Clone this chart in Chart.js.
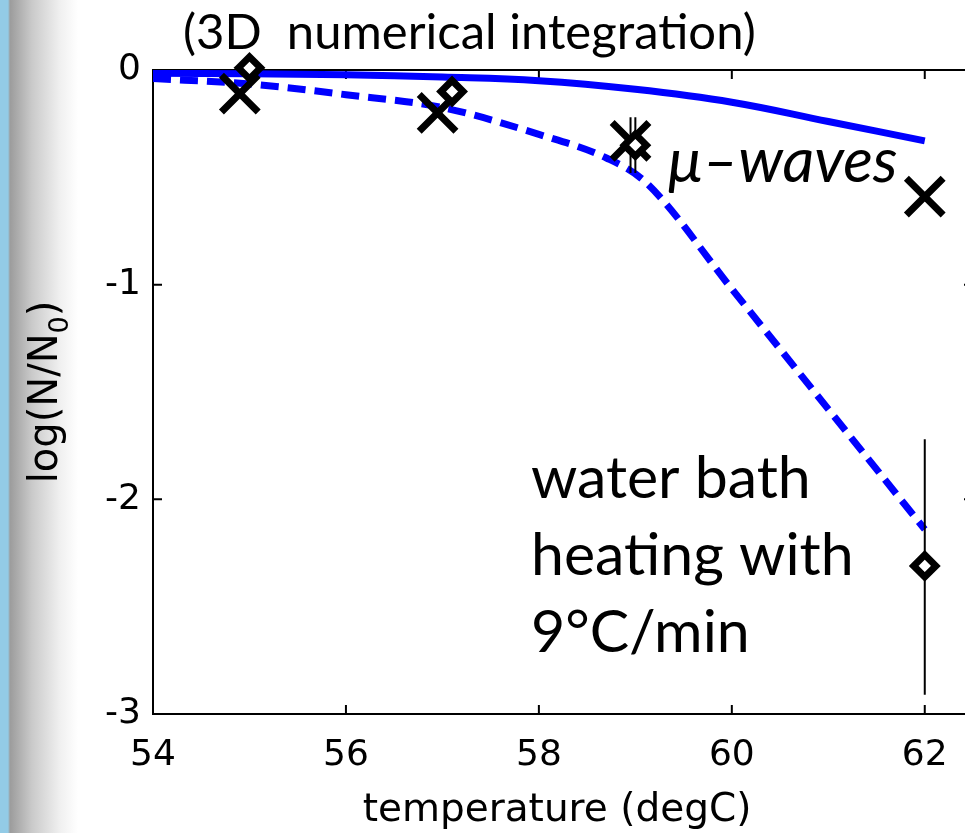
<!DOCTYPE html>
<html>
<head>
<meta charset="utf-8">
<script src="https://cdn.jsdelivr.net/npm/chart.js@4.4.0/dist/chart.umd.min.js"></script>
<style>
  html, body { margin: 0; padding: 0; }
  body {
    width: 965px; height: 833px; overflow: hidden;
    background: linear-gradient(to right, #93cbe6 0px, #93cbe6 8px, #9c9c9c 10px, #cacaca 32px, #f0f0f0 60px, #ffffff 78px);
  }
  #wrap { position: relative; width: 1006px; height: 833px; }
</style>
</head>
<body>
<div id="wrap"><canvas id="survival"></canvas></div>
<script>
// model curves (3D numerical integration)
const microT = [54, 55, 56, 57, 58, 59, 60, 61, 62];
const microLog = [-0.015, -0.018, -0.022, -0.033, -0.05, -0.09, -0.15, -0.24, -0.33];
const bathT = [54, 55, 56, 57, 58, 58.7, 59.1, 60, 61, 62];
const bathLog = [-0.04, -0.065, -0.115, -0.175, -0.3, -0.41, -0.52, -1.02, -1.58, -2.14];

// measurements
const crossT = [54.9, 56.95, 58.95, 62];
const crossLog = [-0.11, -0.2, -0.33, -0.59];
const diamondT = [55, 57.1, 59, 62];
const diamondLog = [0.01, -0.1, -0.35, -2.31];

// error bars
const errT = [58.95, 59.0, 62];
const errHigh = [-0.22, -0.22, -1.72];
const errLow = [-0.48, -0.48, -2.91];

const xTicks = [54, 56, 58, 60, 62];
const yTicks = [-3, -2, -1, 0];

const pts = (xs, ys) => xs.map((v, i) => ({ x: v, y: ys[i] }));

const errSets = errT.map((t, i) => ({
  data: [{ x: t, y: errHigh[i] }, { x: t, y: errLow[i] }],
  showLine: true, pointRadius: 0, borderColor: '#000', borderWidth: 2, clip: false
}));

const frame = {
  id: 'frame',
  beforeDatasetsDraw(chart) {
    const { ctx, chartArea: a, scales: { x, y } } = chart;
    ctx.save();
    ctx.strokeStyle = '#000';
    ctx.lineWidth = 2;
    ctx.strokeRect(a.left, a.top, a.right - a.left, a.bottom - a.top);
    ctx.beginPath();
    xTicks.forEach(v => {
      const px = x.getPixelForValue(v);
      ctx.moveTo(px, a.bottom); ctx.lineTo(px, a.bottom - 9);
      ctx.moveTo(px, a.top); ctx.lineTo(px, a.top + 9);
    });
    yTicks.forEach(v => {
      const py = y.getPixelForValue(v);
      ctx.moveTo(a.left, py); ctx.lineTo(a.left + 9, py);
      ctx.moveTo(a.right, py); ctx.lineTo(a.right - 9, py);
    });
    ctx.stroke();
    ctx.restore();
  },
  afterDraw(chart) {
    const { ctx, chartArea: a } = chart;
    ctx.save();
    ctx.fillStyle = '#000';
    ctx.textBaseline = 'alphabetic';

    ctx.font = '49px Lato';
    ctx.fillText('(3D  numerical integration)', 183, 49);

    ctx.font = 'italic 62px Lato';
    ctx.fillText('\u03bc\u2013waves', 668, 182);

    ctx.font = '59px Lato';
    ctx.fillText('water bath', 531, 498);
    ctx.fillText('heating with', 531, 575);
    ctx.fillText('9\u00b0C/min', 531, 652);

    // x axis title
    ctx.font = '39px "DejaVu Sans"';
    ctx.textAlign = 'center';
    ctx.fillText('temperature (degC)', 557, 821);

    // y axis title with subscript
    ctx.textAlign = 'left';
    const big = '40px "DejaVu Sans"', small = '27px "DejaVu Sans"';
    ctx.font = big; const w1 = ctx.measureText('log(N/N').width;
    const w3 = ctx.measureText(')').width;
    ctx.font = small; const w2 = ctx.measureText('0').width;
    const total = w1 + w2 + w3;
    ctx.translate(57, (a.top + a.bottom) / 2);
    ctx.rotate(-Math.PI / 2);
    let cx = -total / 2;
    ctx.font = big; ctx.fillText('log(N/N', cx, 0); cx += w1;
    ctx.font = small; ctx.fillText('0', cx, 11); cx += w2;
    ctx.font = big; ctx.fillText(')', cx, 0);
    ctx.restore();
  }
};

new Chart(document.getElementById('survival'), {
  type: 'scatter',
  data: {
    datasets: [
      { data: pts(diamondT, diamondLog), pointStyle: 'rectRot', pointRadius: 11, borderWidth: 7,
        borderColor: '#000', backgroundColor: '#fff', clip: false },
      { data: pts(crossT, crossLog), pointStyle: 'crossRot', pointRadius: 26, borderWidth: 7,
        borderColor: '#000', clip: false },
      ...errSets,
      { data: pts(bathT, bathLog), showLine: true, pointRadius: 0, borderColor: '#0000ff', borderWidth: 7,
        borderDash: [18, 9], cubicInterpolationMode: 'monotone' },
      { data: pts(microT, microLog), showLine: true, pointRadius: 0, borderColor: '#0000ff', borderWidth: 7,
        tension: 0.4 }
    ]
  },
  options: {
    responsive: true,
    maintainAspectRatio: false,
    animation: false,
    layout: { padding: { top: 70, right: 11, left: 0, bottom: 0 } },
    plugins: { legend: { display: false }, tooltip: { enabled: false } },
    scales: {
      x: {
        type: 'linear', min: 54, max: 62.5,
        border: { display: false },
        grid: { display: false, drawTicks: false },
        ticks: {
          stepSize: 2, includeBounds: false, padding: 20, maxRotation: 0, color: '#000',
          font: { family: 'DejaVu Sans', size: 36 }
        },
        afterFit(s) { s.height = 119; }
      },
      y: {
        min: -3, max: 0,
        border: { display: false },
        grid: { display: false, drawTicks: false },
        ticks: {
          stepSize: 1, padding: 12, color: '#000',
          font: { family: 'DejaVu Sans', size: 36 }
        },
        afterFit(s) { s.width = 153; }
      }
    }
  },
  plugins: [frame]
});
</script>
</body>
</html>
